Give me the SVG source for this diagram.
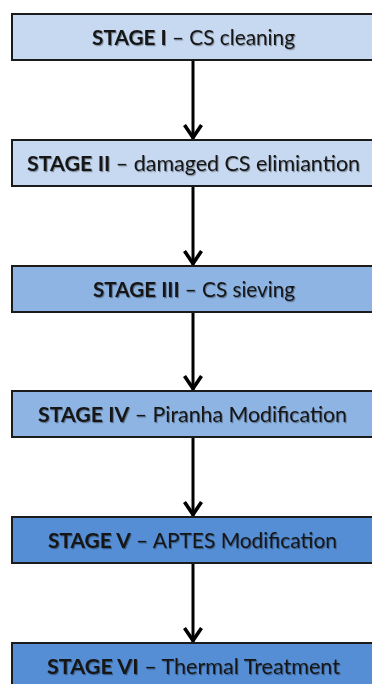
<svg xmlns="http://www.w3.org/2000/svg" width="372" height="684" viewBox="0 0 372 684">
  <defs>
    <style>
      .box { stroke: #1b1b1b; stroke-width: 2; }
      .s1 { fill: #C6D9F1; }
      .s2 { fill: #8EB4E3; }
      .s3 { fill: #558ED5; }
      .lbl { font-family: Lato, "Open Sans", "Liberation Sans", sans-serif; font-size: 21px; fill: #151515; text-anchor: middle; filter: url(#shadow); }
      .b { font-weight: bold; }
      .conn { stroke: #000; stroke-width: 3; fill: none; marker-end: url(#chev); }
    </style>
    <filter id="shadow" x="-5%" y="-30%" width="110%" height="160%">
      <feDropShadow dx="1" dy="1.2" stdDeviation="0.6" flood-color="#000" flood-opacity="0.35"/>
    </filter>
    <marker id="chev" markerUnits="userSpaceOnUse" markerWidth="30" markerHeight="30" viewBox="-20 -15 30 30" refX="0" refY="0" orient="auto">
      <path d="M-14,-8.5 L-1.5,0 L-14,8.5" stroke="#000" stroke-width="3.6" fill="none" stroke-linejoin="miter"/>
    </marker>
  </defs>

  <g id="connectors">
    <path class="conn" d="M193,60 V139"/>
    <path class="conn" d="M193,186 V265"/>
    <path class="conn" d="M193,312 V390"/>
    <path class="conn" d="M193,437 V516"/>
    <path class="conn" d="M193,563 V642"/>
  </g>

  <g id="stage1">
    <rect class="box s1" x="12" y="14" width="380" height="46"/>
    <text class="lbl" x="193.5" y="45" textLength="203" lengthAdjust="spacingAndGlyphs"><tspan class="b">STAGE I</tspan> – CS cleaning</text>
  </g>
  <g id="stage2">
    <rect class="box s1" x="12" y="140" width="380" height="46"/>
    <text class="lbl" x="193.5" y="171" textLength="333" lengthAdjust="spacingAndGlyphs"><tspan class="b">STAGE II</tspan> – damaged CS elimiantion</text>
  </g>
  <g id="stage3">
    <rect class="box s2" x="12" y="266" width="380" height="46"/>
    <text class="lbl" x="194" y="297" textLength="202" lengthAdjust="spacingAndGlyphs"><tspan class="b">STAGE III</tspan> – CS sieving</text>
  </g>
  <g id="stage4">
    <rect class="box s2" x="12" y="391" width="380" height="46"/>
    <text class="lbl" x="192.5" y="422" textLength="309" lengthAdjust="spacingAndGlyphs"><tspan class="b">STAGE IV</tspan> – Piranha Modification</text>
  </g>
  <g id="stage5">
    <rect class="box s3" x="12" y="517" width="380" height="46"/>
    <text class="lbl" x="192.5" y="548" textLength="289" lengthAdjust="spacingAndGlyphs"><tspan class="b">STAGE V</tspan> – APTES Modification</text>
  </g>
  <g id="stage6">
    <rect class="box s3" x="12" y="643" width="380" height="46"/>
    <text class="lbl" x="193.5" y="674" textLength="293" lengthAdjust="spacingAndGlyphs"><tspan class="b">STAGE VI</tspan> – Thermal Treatment</text>
  </g>
</svg>
